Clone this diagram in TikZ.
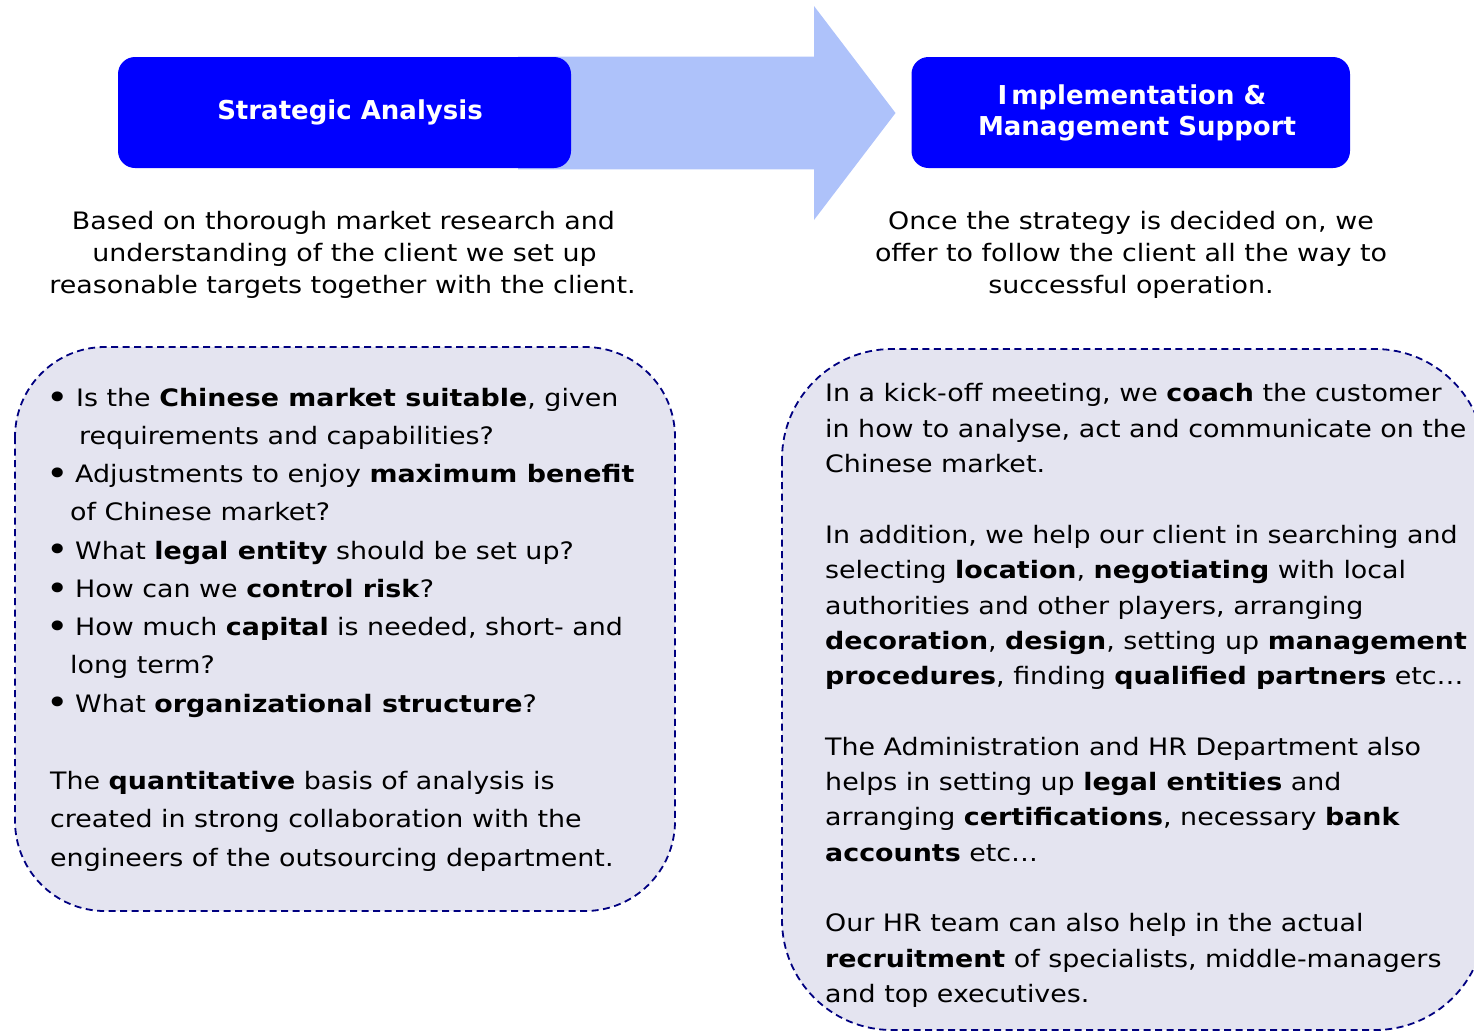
\documentclass[tikz,border=0pt]{standalone}
\usepackage{fontspec}
\setmainfont{DejaVu Sans}[FakeStretch=1.12]
\newfontfamily\titlefont{DejaVu Sans}
\definecolor{pureblue}{HTML}{0000FF}
\definecolor{lightarrow}{HTML}{AEC2FA}
\definecolor{boxfill}{HTML}{E4E4F0}
\definecolor{navyline}{HTML}{000080}
\definecolor{txtcol}{HTML}{000000}
\tikzset{
  titlebox/.style={fill=pureblue, draw=none, rounded corners=17pt},
  titletxt/.style={text=white, font=\titlefont\fontsize{26}{32}\selectfont\bfseries, inner sep=0pt},
  dashbox/.style={fill=boxfill, draw=navyline, line width=1.8pt, dash pattern=on 7pt off 4.5pt},
  body/.style={text=txtcol, font=\fontsize{24}{30}\selectfont, inner sep=0pt},
  bl/.style={body, anchor=base west},
  bc/.style={body, anchor=base},
  bulletmark/.style={text=txtcol, font=\fontsize{34}{34}\selectfont, inner sep=0pt, anchor=base},
}
\begin{document}
\begin{tikzpicture}[x=1pt,y=-1pt]
\useasboundingbox (0,0) rectangle (1474,1031);
\begin{scope}
\clip (0,0) rectangle (1474,1031);
% arrow
\fill[lightarrow] (518,56.7) -- (814,56.7) -- (814,6) -- (895.5,113) -- (814,220) -- (814,169.3) -- (518,169.3) -- cycle;
% title boxes
\fill[titlebox] (118,57) rectangle (571,168);
\fill[titlebox] (911.5,57) rectangle (1350,168);
\node[titletxt, anchor=base] (t1) at (350,119) {Strategic Analysis};
\node[titletxt, anchor=base] (t2a) at (1132,104) {I\kern4pt mplementation \&};
\node[titletxt, anchor=base] (t2b) at (1137,135) {Management Support};
% descriptions
\node[bc] (d1) at (343.5,229) {Based on thorough market research and};
\node[bc] (d2) at (344.5,261) {understanding of the client we set up};
\node[bc] (d3) at (342.5,293) {reasonable targets together with the client.};
\node[bc] (e1) at (1131,229) {Once the strategy is decided on, we};
\node[bc] (e2) at (1131,261) {offer to follow the client all the way to};
\node[bc] (e3) at (1131,293) {successful operation.};
% dashed boxes
\path[dashbox, rounded corners=90pt] (15,347) rectangle (675,911);
\path[dashbox, rounded corners=110pt] (782,349) rectangle (1485,1030);
% left box text
\node[bulletmark] (bu1) at (58,409) {•};
\node[bl] (l1) at (76,406.5) {Is the \textbf{Chinese market suitable}, given};
\node[bl] (l2) at (79,444.5) {requirements and capabilities?};
\node[bulletmark] (bu2) at (58,485) {•};
\node[bl] (l3) at (75,482.5) {Adjustments to enjoy \textbf{maximum benefit}};
\node[bl] (l4) at (70,520.5) {of Chinese market?};
\node[bulletmark] (bu3) at (58,561.5) {•};
\node[bl] (l5) at (75,559) {What \textbf{legal entity} should be set up?};
\node[bulletmark] (bu4) at (58,600) {•};
\node[bl] (l6) at (75,597.5) {How can we \textbf{control risk}?};
\node[bulletmark] (bu5) at (58,638) {•};
\node[bl] (l7) at (75,635.5) {How much \textbf{capital} is needed, short- and};
\node[bl] (l8) at (70,673.5) {long term?};
\node[bulletmark] (bu6) at (58,714.5) {•};
\node[bl] (l9) at (75,712) {What \textbf{organizational structure}?};
\node[bl] (p1) at (50,789.5) {The \textbf{quantitative} basis of analysis is};
\node[bl] (p2) at (50,827.5) {created in strong collaboration with the};
\node[bl] (p3) at (50,866.5) {engineers of the outsourcing department.};
% right box text
\node[bl] (r1) at (825,401.5) {In a kick-off meeting, we \textbf{coach} the customer};
\node[bl] (r2) at (825,437) {in how to analyse, act and communicate on the};
\node[bl] (r3) at (825,472) {Chinese market.};
\node[bl] (r4) at (825,543) {In addition, we help our client in searching and};
\node[bl] (r5) at (825,578.5) {selecting \textbf{location}, \textbf{negotiating} with local};
\node[bl] (r6) at (825,614) {authorities and other players, arranging};
\node[bl] (r7) at (825,649.5) {\textbf{decoration}, \textbf{design}, setting up \textbf{management}};
\node[bl] (r8) at (825,684.5) {\textbf{procedures}, finding \textbf{qualified partners} etc…};
\node[bl] (r9) at (825,755) {The Administration and HR Department also};
\node[bl] (r10) at (825,790.5) {helps in setting up \textbf{legal entities} and};
\node[bl] (r11) at (825,825.5) {arranging \textbf{certifications}, necessary \textbf{bank}};
\node[bl] (r12) at (825,861) {\textbf{accounts} etc…};
\node[bl] (r13) at (825,931.5) {Our HR team can also help in the actual};
\node[bl] (r14) at (825,967) {\textbf{recruitment} of specialists, middle-managers};
\node[bl] (r15) at (825,1002.5) {and top executives.};
\end{scope}
\end{tikzpicture}
\end{document}
